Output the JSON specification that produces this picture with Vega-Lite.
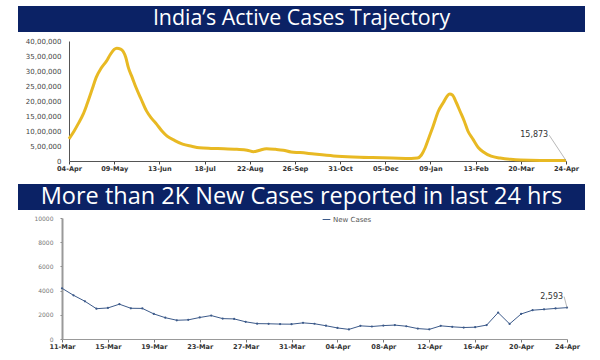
{
  "$schema": "https://vega.github.io/schema/vega-lite/v6.json",
  "padding": {"left": 18, "top": 6, "right": 5, "bottom": 3},
  "spacing": 5,
  "background": "white",
  "resolve": {"scale": {"color": "independent"}, "legend": {"color": "independent"}},
  "config": {
    "view": {"stroke": null},
    "font": "Open Sans",
    "axis": {"grid": false, "labelOverlap": false, "labelFont": "DejaVu Sans", "titleFont": "DejaVu Sans"}
  },
  "datasets": {
    "active": [
      {"date": "2021-04-04", "cases": 740000},
      {"date": "2021-04-08", "cases": 1000000},
      {"date": "2021-04-11", "cases": 1230000},
      {"date": "2021-04-15", "cases": 1560000},
      {"date": "2021-04-18", "cases": 1900000},
      {"date": "2021-04-22", "cases": 2400000},
      {"date": "2021-04-25", "cases": 2780000},
      {"date": "2021-04-29", "cases": 3100000},
      {"date": "2021-05-03", "cases": 3330000},
      {"date": "2021-05-06", "cases": 3550000},
      {"date": "2021-05-09", "cases": 3720000},
      {"date": "2021-05-11", "cases": 3760000},
      {"date": "2021-05-14", "cases": 3730000},
      {"date": "2021-05-16", "cases": 3650000},
      {"date": "2021-05-18", "cases": 3450000},
      {"date": "2021-05-20", "cases": 3110000},
      {"date": "2021-05-23", "cases": 2780000},
      {"date": "2021-05-26", "cases": 2440000},
      {"date": "2021-05-30", "cases": 2050000},
      {"date": "2021-06-03", "cases": 1670000},
      {"date": "2021-06-07", "cases": 1420000},
      {"date": "2021-06-11", "cases": 1220000},
      {"date": "2021-06-15", "cases": 1000000},
      {"date": "2021-06-19", "cases": 830000},
      {"date": "2021-06-25", "cases": 680000},
      {"date": "2021-07-01", "cases": 560000},
      {"date": "2021-07-08", "cases": 490000},
      {"date": "2021-07-14", "cases": 440000},
      {"date": "2021-07-23", "cases": 420000},
      {"date": "2021-08-02", "cases": 410000},
      {"date": "2021-08-12", "cases": 390000},
      {"date": "2021-08-20", "cases": 360000},
      {"date": "2021-08-25", "cases": 310000},
      {"date": "2021-08-29", "cases": 350000},
      {"date": "2021-09-04", "cases": 410000},
      {"date": "2021-09-11", "cases": 390000},
      {"date": "2021-09-17", "cases": 360000},
      {"date": "2021-09-23", "cases": 300000},
      {"date": "2021-09-30", "cases": 280000},
      {"date": "2021-10-11", "cases": 230000},
      {"date": "2021-10-26", "cases": 170000},
      {"date": "2021-11-10", "cases": 135000},
      {"date": "2021-11-25", "cases": 115000},
      {"date": "2021-12-10", "cases": 100000},
      {"date": "2021-12-25", "cases": 85000},
      {"date": "2021-12-30", "cases": 100000},
      {"date": "2022-01-02", "cases": 200000},
      {"date": "2022-01-05", "cases": 450000},
      {"date": "2022-01-08", "cases": 800000},
      {"date": "2022-01-11", "cases": 1150000},
      {"date": "2022-01-15", "cases": 1650000},
      {"date": "2022-01-19", "cases": 1950000},
      {"date": "2022-01-22", "cases": 2170000},
      {"date": "2022-01-24", "cases": 2230000},
      {"date": "2022-01-26", "cases": 2200000},
      {"date": "2022-01-29", "cases": 1950000},
      {"date": "2022-02-01", "cases": 1650000},
      {"date": "2022-02-04", "cases": 1350000},
      {"date": "2022-02-07", "cases": 1000000},
      {"date": "2022-02-11", "cases": 720000},
      {"date": "2022-02-15", "cases": 450000},
      {"date": "2022-02-19", "cases": 300000},
      {"date": "2022-02-25", "cases": 160000},
      {"date": "2022-03-04", "cases": 100000},
      {"date": "2022-03-12", "cases": 55000},
      {"date": "2022-03-20", "cases": 30000},
      {"date": "2022-04-04", "cases": 17000},
      {"date": "2022-04-24", "cases": 15873}
    ],
    "ann1": [
      {"date": "2022-04-11", "cases": 860000, "date2": "2022-04-24", "cases2": 15873, "label": "15,873"}
    ],
    "newcases": [
      {"date": "2022-03-11", "cases": 4194},
      {"date": "2022-03-12", "cases": 3614},
      {"date": "2022-03-13", "cases": 3116},
      {"date": "2022-03-14", "cases": 2503},
      {"date": "2022-03-15", "cases": 2568},
      {"date": "2022-03-16", "cases": 2876},
      {"date": "2022-03-17", "cases": 2539},
      {"date": "2022-03-18", "cases": 2528},
      {"date": "2022-03-19", "cases": 2075},
      {"date": "2022-03-20", "cases": 1761},
      {"date": "2022-03-21", "cases": 1549},
      {"date": "2022-03-22", "cases": 1581},
      {"date": "2022-03-23", "cases": 1778},
      {"date": "2022-03-24", "cases": 1938},
      {"date": "2022-03-25", "cases": 1685},
      {"date": "2022-03-26", "cases": 1660},
      {"date": "2022-03-27", "cases": 1421},
      {"date": "2022-03-28", "cases": 1270},
      {"date": "2022-03-29", "cases": 1259},
      {"date": "2022-03-30", "cases": 1233},
      {"date": "2022-03-31", "cases": 1225},
      {"date": "2022-04-01", "cases": 1335},
      {"date": "2022-04-02", "cases": 1260},
      {"date": "2022-04-03", "cases": 1096},
      {"date": "2022-04-04", "cases": 913},
      {"date": "2022-04-05", "cases": 795},
      {"date": "2022-04-06", "cases": 1086},
      {"date": "2022-04-07", "cases": 1033},
      {"date": "2022-04-08", "cases": 1109},
      {"date": "2022-04-09", "cases": 1150},
      {"date": "2022-04-10", "cases": 1054},
      {"date": "2022-04-11", "cases": 861},
      {"date": "2022-04-12", "cases": 796},
      {"date": "2022-04-13", "cases": 1088},
      {"date": "2022-04-14", "cases": 1007},
      {"date": "2022-04-15", "cases": 949},
      {"date": "2022-04-16", "cases": 975},
      {"date": "2022-04-17", "cases": 1150},
      {"date": "2022-04-18", "cases": 2183},
      {"date": "2022-04-19", "cases": 1247},
      {"date": "2022-04-20", "cases": 2067},
      {"date": "2022-04-21", "cases": 2380},
      {"date": "2022-04-22", "cases": 2451},
      {"date": "2022-04-23", "cases": 2527},
      {"date": "2022-04-24", "cases": 2593}
    ],
    "ann2": [
      {"date": "2022-04-23T18:00:00Z", "cases": 3500, "date2": "2022-04-24", "cases2": 2593, "label": "2,593"}
    ]
  },
  "vconcat": [
    {
      "width": 567,
      "height": 26,
      "view": {"fill": "#0b2265", "stroke": null},
      "data": {"values": [{"t": "India’s Active Cases Trajectory"}]},
      "mark": {"type": "text", "color": "white", "fontSize": 21.4, "font": "Open Sans"},
      "encoding": {"text": {"field": "t", "type": "nominal"}}
    },
    {
      "width": 548,
      "height": 120,
      "encoding": {
        "x": {
          "field": "date",
          "type": "temporal",
          "scale": {
            "type": "utc",
            "range": [51, 548],
            "domain": [
              {"year": 2021, "month": 4, "date": 4, "utc": true},
              {"year": 2022, "month": 4, "date": 24, "utc": true}
            ]
          },
          "axis": {
            "title": null,
            "format": "%d-%b",
            "values": [
              {"year": 2021, "month": 4, "date": 4, "utc": true},
              {"year": 2021, "month": 5, "date": 9, "utc": true},
              {"year": 2021, "month": 6, "date": 13, "utc": true},
              {"year": 2021, "month": 7, "date": 18, "utc": true},
              {"year": 2021, "month": 8, "date": 22, "utc": true},
              {"year": 2021, "month": 9, "date": 26, "utc": true},
              {"year": 2021, "month": 10, "date": 31, "utc": true},
              {"year": 2021, "month": 12, "date": 5, "utc": true},
              {"year": 2022, "month": 1, "date": 9, "utc": true},
              {"year": 2022, "month": 2, "date": 13, "utc": true},
              {"year": 2022, "month": 3, "date": 20, "utc": true},
              {"year": 2022, "month": 4, "date": 24, "utc": true}
            ],
            "labelFlush": false,
            "labelOverlap": false,
            "labelFontSize": 6.6,
            "labelFontWeight": "bold",
            "labelColor": "#333",
            "tickSize": 3,
            "tickColor": "#444",
            "labelPadding": 1,
            "domainColor": "#555",
            "minExtent": 18,
            "maxExtent": 18
          }
        },
        "y": {
          "field": "cases",
          "type": "quantitative",
          "scale": {"domain": [0, 4000000]},
          "axis": {
            "title": null,
            "offset": -51,
            "values": [0, 500000, 1000000, 1500000, 2000000, 2500000, 3000000, 3500000, 4000000],
            "labelExpr": "datum.value == 0 ? '0' : format(datum.value / 100000, 'd') + ',00,000'",
            "labelOverlap": false,
            "labelFontSize": 7,
            "labelColor": "#444",
            "ticks": false,
            "labelPadding": 8,
            "domainColor": "#555"
          }
        }
      },
      "layer": [
        {
          "data": {"name": "active"},
          "mark": {"type": "line", "color": "#e8b923", "strokeWidth": 3, "interpolate": "monotone"}
        },
        {
          "data": {"name": "ann1"},
          "mark": {"type": "rule", "color": "#999", "strokeWidth": 0.7},
          "encoding": {
            "x2": {"field": "date2"},
            "y2": {"field": "cases2"}
          }
        },
        {
          "data": {"name": "ann1"},
          "mark": {"type": "text", "align": "right", "dx": -1, "fontSize": 8, "font": "DejaVu Sans", "color": "#333"},
          "encoding": {
            "text": {"field": "label", "type": "nominal"}
          }
        }
      ]
    },
    {
      "width": 567,
      "height": 26,
      "view": {"fill": "#0b2265", "stroke": null},
      "data": {"values": [{"t": "More than 2K New Cases reported in last 24 hrs"}]},
      "mark": {"type": "text", "color": "white", "fontSize": 23.5, "font": "Open Sans"},
      "encoding": {"text": {"field": "t", "type": "nominal"}}
    },
    {
      "width": 549,
      "height": 121,
      "encoding": {
        "x": {
          "field": "date",
          "type": "temporal",
          "scale": {
            "type": "utc",
            "range": [44, 549],
            "domain": [
              {"year": 2022, "month": 3, "date": 11, "utc": true},
              {"year": 2022, "month": 4, "date": 24, "utc": true}
            ]
          },
          "axis": {
            "title": null,
            "format": "%d-%b",
            "values": [
              {"year": 2022, "month": 3, "date": 11, "utc": true},
              {"year": 2022, "month": 3, "date": 15, "utc": true},
              {"year": 2022, "month": 3, "date": 19, "utc": true},
              {"year": 2022, "month": 3, "date": 23, "utc": true},
              {"year": 2022, "month": 3, "date": 27, "utc": true},
              {"year": 2022, "month": 3, "date": 31, "utc": true},
              {"year": 2022, "month": 4, "date": 4, "utc": true},
              {"year": 2022, "month": 4, "date": 8, "utc": true},
              {"year": 2022, "month": 4, "date": 12, "utc": true},
              {"year": 2022, "month": 4, "date": 16, "utc": true},
              {"year": 2022, "month": 4, "date": 20, "utc": true},
              {"year": 2022, "month": 4, "date": 24, "utc": true}
            ],
            "labelFlush": false,
            "labelOverlap": false,
            "labelFontSize": 6.6,
            "labelFontWeight": "bold",
            "labelColor": "#333",
            "tickSize": 3,
            "tickColor": "#777",
            "labelPadding": 1,
            "domainColor": "#999"
          }
        },
        "y": {
          "field": "cases",
          "type": "quantitative",
          "scale": {"domain": [0, 10000]},
          "axis": {
            "title": null,
            "offset": -44,
            "values": [0, 2000, 4000, 6000, 8000, 10000],
            "format": "d",
            "labelOverlap": false,
            "labelFontSize": 6,
            "labelColor": "#777",
            "tickSize": 2,
            "tickColor": "#888",
            "labelPadding": 7,
            "domainColor": "#999",
            "domainWidth": 2
          }
        }
      },
      "layer": [
        {
          "data": {"name": "newcases"},
          "mark": {"type": "line", "strokeWidth": 1, "point": {"filled": true, "size": 5}},
          "encoding": {
            "color": {
              "datum": "New Cases",
              "type": "nominal",
              "scale": {"range": ["#3c5a8a"]},
              "legend": {
                "title": null,
                "orient": "none",
                "legendX": 304,
                "legendY": -3,
                "labelFontSize": 7,
                "labelFont": "DejaVu Sans",
                "labelColor": "#555",
                "symbolType": "stroke",
                "symbolStrokeWidth": 1,
                "symbolSize": 60,
                "labelOffset": 2
              }
            }
          }
        },
        {
          "data": {"name": "ann2"},
          "mark": {"type": "rule", "color": "#999", "strokeWidth": 0.7},
          "encoding": {
            "x2": {"field": "date2"},
            "y2": {"field": "cases2"}
          }
        },
        {
          "data": {"name": "ann2"},
          "mark": {"type": "text", "align": "right", "dx": -1, "fontSize": 8, "font": "DejaVu Sans", "color": "#333"},
          "encoding": {
            "text": {"field": "label", "type": "nominal"}
          }
        }
      ]
    }
  ]
}
